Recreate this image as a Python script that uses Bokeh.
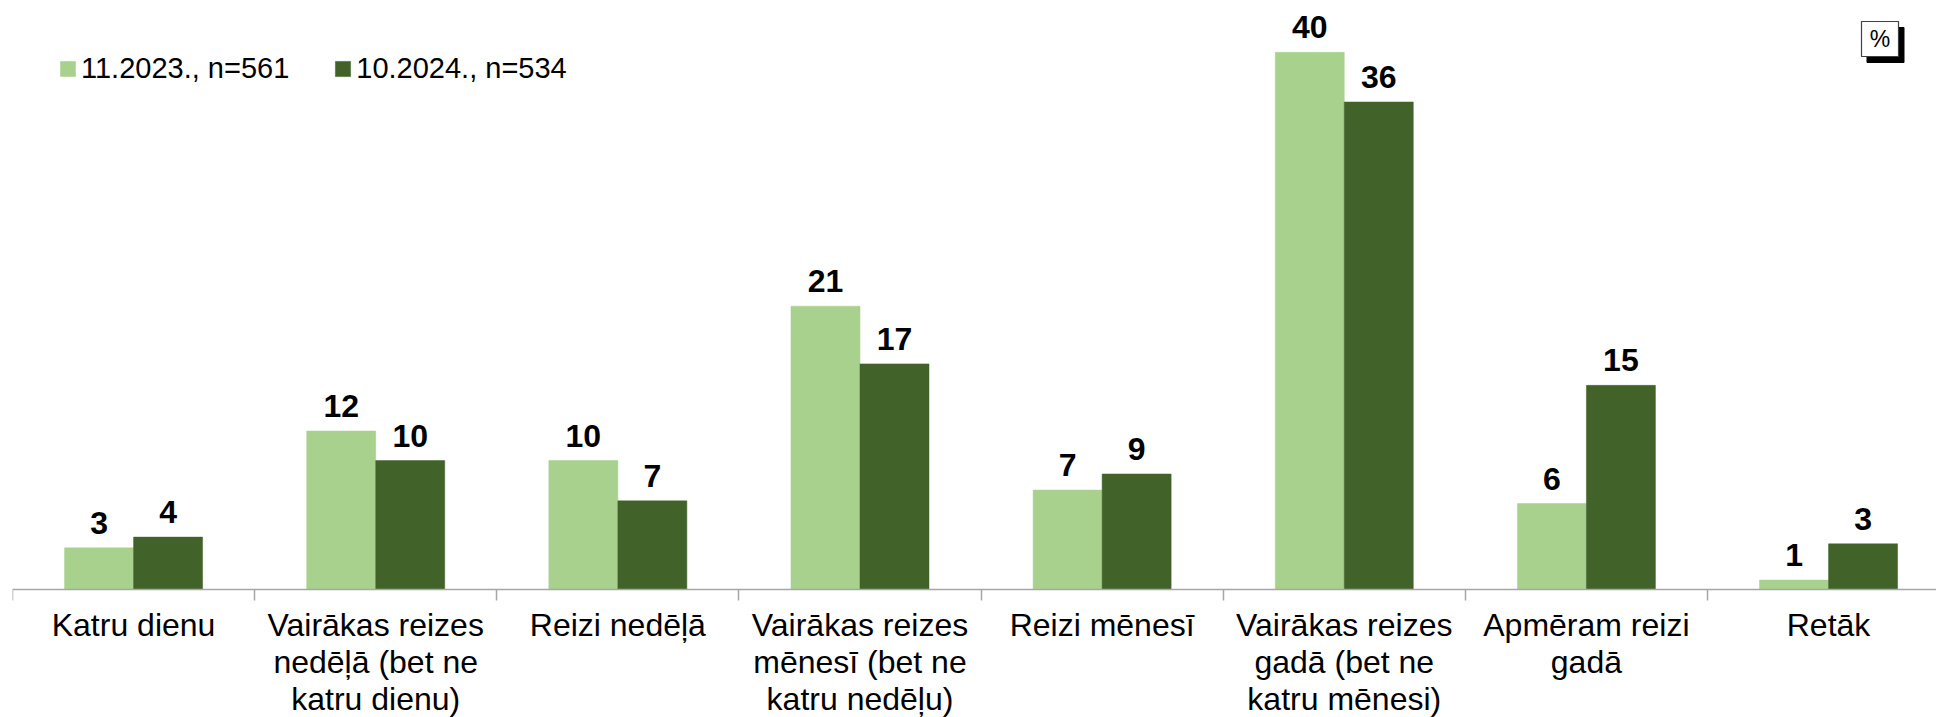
import numpy as np
from bokeh.plotting import figure
from bokeh.models import Range1d, LinearAxis, FixedTicker, Legend, LegendItem, ColumnDataSource
from bokeh.core.properties import value
from bokeh.embed import file_html
from bokeh.resources import INLINE

# ---------------- data ----------------
categories = [
    "Katru dienu",
    "Vairākas reizes\nnedēļā (bet ne\nkatru dienu)",
    "Reizi nedēļā",
    "Vairākas reizes\nmēnesī (bet ne\nkatru nedēļu)",
    "Reizi mēnesī",
    "Vairākas reizes\ngadā (bet ne\nkatru mēnesi)",
    "Apmēram reizi\ngadā",
    "Retāk",
]
series_names = ["11.2023., n=561", "10.2024., n=534"]
values_2023 = [3.1, 11.8, 9.6, 21.1, 7.4, 40.0, 6.4, 0.7]
values_2024 = [3.9, 9.6, 6.6, 16.8, 8.6, 36.3, 15.2, 3.4]
labels_2023 = ["3", "12", "10", "21", "7", "40", "6", "1"]
labels_2024 = ["4", "10", "7", "17", "9", "36", "15", "3"]
colors = ["#A9D18E", "#41632A"]

# ---------------- layout constants ----------------
W, H = 1936, 717
LEFT = 12                # frame left inside figure
CAT_PX = 242.14          # pixels per category
UNIT_PX = 13.43          # pixels per percent
ZERO_Y = 589             # y of the baseline inside the figure
x_end = (W - LEFT) / CAT_PX
y_end = ZERO_Y / UNIT_PX
y_start = -(H - ZERO_Y) / UNIT_PX

FONT_NAME = "Liberation Sans"
FONT = value(FONT_NAME)
AXIS_GRAY = "#A6A6A6"

p = figure(width=W, height=H, output_backend="svg", toolbar_location=None,
           x_range=Range1d(0, x_end), y_range=Range1d(y_start, y_end),
           x_axis_location=None, y_axis_location=None,
           min_border_left=LEFT, min_border_right=0, min_border_top=0, min_border_bottom=0)
p.outline_line_color = None
p.xgrid.visible = False
p.ygrid.visible = False
p.background_fill_color = "white"
p.border_fill_color = "white"

n = len(categories)
centers = np.arange(n) + 0.5
bar_w = 0.285
offsets = [-bar_w / 2, bar_w / 2]

renderers = []
for vals, labs, col, off in zip([values_2023, values_2024], [labels_2023, labels_2024], colors, offsets):
    src = ColumnDataSource(dict(x=centers + off, top=vals, lab=labs))
    r = p.vbar(x="x", top="top", bottom=0, width=bar_w, source=src,
               fill_color=col, line_color=col, line_width=0.5)
    renderers.append(r)
    p.text(x="x", y="top", text="lab", source=src, text_align="center",
           text_baseline="alphabetic", y_offset=-25, text_font=FONT,
           text_font_style="bold", text_font_size="32px", text_color="black")

# category axis at zero
xaxis = LinearAxis(fixed_location=0)
xaxis.ticker = FixedTicker(ticks=list(centers), minor_ticks=list(range(n)))
xaxis.major_label_overrides = {float(c): lab for c, lab in zip(centers, categories)}
xaxis.major_tick_out = 0
xaxis.major_tick_in = 0
xaxis.minor_tick_out = 11
xaxis.minor_tick_in = 0
xaxis.minor_tick_line_color = AXIS_GRAY
xaxis.minor_tick_line_width = 1.5
xaxis.axis_line_color = AXIS_GRAY
xaxis.axis_line_width = 1.5
xaxis.major_label_standoff = 6
xaxis.major_label_text_font = FONT_NAME
xaxis.major_label_text_font_size = "32px"
xaxis.major_label_text_color = "black"
xaxis.major_label_text_line_height = 1.03
p.add_layout(xaxis, "below")

# legend
legend = Legend(items=[LegendItem(label=s, renderers=[r]) for s, r in zip(series_names, renderers)],
                orientation="horizontal", location=(46, 632), padding=0, margin=0,
                spacing=44, label_standoff=4, glyph_width=19, glyph_height=19,
                label_text_font=FONT_NAME, label_text_font_size="29px", label_text_color="black",
                background_fill_alpha=0, border_line_color=None)
p.add_layout(legend)

# "%" unit box with shadow (decoration, positioned in pixels converted to data)
def px_x(px):
    return (px - LEFT) / CAT_PX

def px_y(py):
    return (ZERO_Y - py) / UNIT_PX

box_cx, box_cy = 1879.5, 38.5
p.rect(x=[px_x(box_cx + 5.5)], y=[px_y(box_cy + 6)], width=37, height=35,
       width_units="screen", height_units="screen", fill_color="black", line_color="black")
p.rect(x=[px_x(box_cx)], y=[px_y(box_cy)], width=37, height=35,
       width_units="screen", height_units="screen", fill_color="white", line_color="#404040",
       line_width=1.2)
p.text(x=[px_x(box_cx)], y=[px_y(box_cy)], text=["%"], text_align="center",
       text_baseline="middle", text_font=FONT, text_font_size="23px", text_color="black")

open("out.html", "w").write(file_html(p, INLINE))
